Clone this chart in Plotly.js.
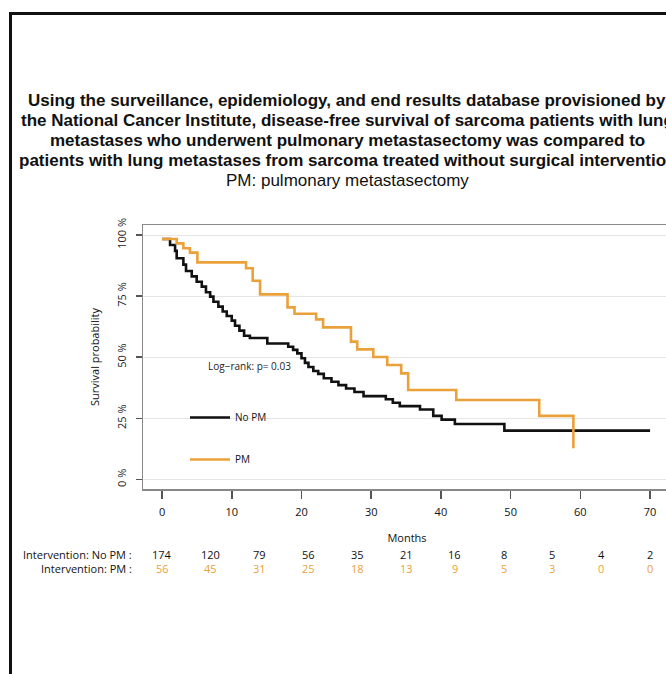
<!DOCTYPE html>
<html>
<head>
<meta charset="utf-8">
<script src="https://cdn.plot.ly/plotly-3.0.1.min.js"></script>
<style>
  html, body { margin: 0; padding: 0; width: 666px; height: 674px; overflow: hidden; background: #fff; }
  #chart { position: absolute; left: 0; top: 0; }
  #frame { position: absolute; left: 9px; top: 12px; width: 900px; height: 900px; border: 3px solid #111; pointer-events: none; }
</style>
</head>
<body>
<div id="chart"></div>
<div id="frame"></div>
<script>
// ---- Data ----
const noPmTime = [0, 1.15, 1.87, 2.1, 3.06, 3.44, 4.26, 4.97, 5.7, 6.3, 6.9, 7.37, 8.08, 8.7, 9.28, 10.0, 10.47, 11.1, 11.77, 12.6, 15.1, 18.1, 18.8, 19.4, 20.0, 20.5, 21.0, 21.7, 22.4, 23.2, 24.3, 25.3, 26.4, 27.6, 28.9, 32.1, 33.1, 34.1, 37.0, 38.9, 40.1, 42.0, 49.1, 70];
const noPmSurv = [0.984, 0.959, 0.935, 0.905, 0.879, 0.853, 0.831, 0.809, 0.789, 0.766, 0.748, 0.727, 0.707, 0.687, 0.669, 0.650, 0.629, 0.609, 0.588, 0.579, 0.556, 0.543, 0.530, 0.516, 0.496, 0.477, 0.460, 0.444, 0.432, 0.414, 0.400, 0.386, 0.372, 0.358, 0.341, 0.328, 0.314, 0.300, 0.286, 0.260, 0.245, 0.227, 0.200, 0.200];

const pmTime = [0, 2.1, 3.06, 4.0, 5.07, 12.05, 13.0, 14.06, 18.0, 19.0, 22.1, 23.1, 27.1, 28.0, 30.3, 32.3, 34.3, 35.3, 42.2, 54.1, 59.0];
const pmSurv = [0.984, 0.966, 0.946, 0.928, 0.888, 0.864, 0.813, 0.757, 0.704, 0.678, 0.655, 0.622, 0.564, 0.532, 0.501, 0.468, 0.434, 0.366, 0.325, 0.260, 0.128];

const xTickVals = [0, 10, 20, 30, 40, 50, 60, 70];
const yTickVals = [0, 0.25, 0.5, 0.75, 1];
const yTickText = ["0 %", "25 %", "50 %", "75 %", "100 %"];

const riskTimes = [0, 7, 14, 21, 28, 35, 42, 49, 56, 63, 70];
const riskNoPm = [174, 120, 79, 56, 35, 21, 16, 8, 5, 4, 2];
const riskPm = [56, 45, 31, 25, 18, 13, 9, 5, 3, 0, 0];
const riskLabels = ["Intervention: No PM :", "Intervention: PM :"];
const seriesNames = ["No PM", "PM"];

const titleLines = [
  "Using the surveillance, epidemiology, and end results database provisioned by",
  "the National Cancer Institute, disease-free survival of sarcoma patients with lung",
  "metastases who underwent pulmonary metastasectomy was compared to",
  "patients with lung metastases from sarcoma treated without surgical intervention"
];
const subtitle = "PM: pulmonary metastasectomy";
const logRankText = "Log\u2212rank: p= 0.03";

// ---- Layout geometry (pixels) ----
const W = 700, H = 674;
const M = { l: 143, r: 29, t: 225, b: 185 };
const plotH = H - M.t - M.b;
const plotW = W - M.l - M.r;
const pxToPaperY = (py) => (H - M.b - py) / plotH;
const pxToPaperX = (px) => (px - M.l) / plotW;

const BLACK = "#111111";
const ORANGE = "#EBA139";
const narrow = "'Open Sans', sans-serif";
const titleFont = "'Liberation Sans', Arial, sans-serif";

const traces = [
  { x: noPmTime, y: noPmSurv, type: "scatter", mode: "lines", name: seriesNames[0],
    line: { shape: "hv", color: BLACK, width: 2.6 }, legendgroup: "a" },
  { x: pmTime, y: pmSurv, type: "scatter", mode: "lines", name: seriesNames[1],
    line: { shape: "hv", color: ORANGE, width: 2.6 }, legendgroup: "b" }
];

const annotations = [];
// title block (one annotation per line for exact line spacing)
titleLines.forEach((s, i) => {
  annotations.push({ x: pxToPaperX(347), y: pxToPaperY(100 + 20 * i), xref: "paper", yref: "paper",
    xanchor: "center", yanchor: "middle", text: "<b>" + s + "</b>", showarrow: false,
    font: { family: titleFont, size: 17, color: "#111" } });
});
annotations.push({ x: pxToPaperX(347), y: pxToPaperY(180), xref: "paper", yref: "paper",
  xanchor: "center", yanchor: "middle", text: subtitle, showarrow: false,
  font: { family: titleFont, size: 17, color: "#111" } });
// log-rank
annotations.push({ x: 12.5, y: 0.464, xref: "x", yref: "y", text: logRankText, showarrow: false,
  font: { family: narrow, size: 10, color: "#222" } });
// risk table
riskTimes.forEach((t, i) => {
  annotations.push({ x: t, y: pxToPaperY(564), xref: "x", yref: "paper", text: String(riskNoPm[i]),
    showarrow: false, font: { family: narrow, size: 11, color: "#111" } });
  annotations.push({ x: t, y: pxToPaperY(578), xref: "x", yref: "paper", text: String(riskPm[i]),
    showarrow: false, font: { family: narrow, size: 11, color: ORANGE } });
});
annotations.push({ x: pxToPaperX(134), y: pxToPaperY(564), xref: "paper", yref: "paper", xanchor: "right",
  text: riskLabels[0], showarrow: false, font: { family: narrow, size: 11, color: "#111" } });
annotations.push({ x: pxToPaperX(134), y: pxToPaperY(578), xref: "paper", yref: "paper", xanchor: "right",
  text: riskLabels[1], showarrow: false, font: { family: narrow, size: 11, color: "#111" } });

const layout = {
  width: W, height: H,
  margin: M,
  paper_bgcolor: "rgba(0,0,0,0)",
  plot_bgcolor: "#ffffff",
  xaxis: {
    range: [-2.73, 73.0], tickvals: xTickVals, ticks: "outside", ticklen: 8, tickwidth: 1.5, tickcolor: "#555",
    showline: true, linecolor: "#888", linewidth: 1.5, mirror: true, showgrid: false, zeroline: false,
    tickfont: { family: narrow, size: 11, color: "#111" }, ticklabelstandoff: 4,
    title: { text: "Months", font: { family: narrow, size: 11, color: "#111" }, standoff: 16 }
  },
  yaxis: {
    range: [-0.039, 1.041], tickvals: yTickVals, ticktext: yTickText, tickangle: -90,
    ticks: "outside", ticklen: 6, tickwidth: 1.5, tickcolor: "#555",
    showline: true, linecolor: "#888", linewidth: 1.5, mirror: true,
    showgrid: true, gridcolor: "#e6e6e6", gridwidth: 1, zeroline: false,
    tickfont: { family: narrow, size: 11, color: "#222" }, ticklabelstandoff: 5,
    title: { text: "Survival probability", font: { family: narrow, size: 11, color: "#111" }, standoff: 12 }
  },
  showlegend: true,
  legend: {
    x: pxToPaperX(185), xanchor: "left", y: pxToPaperY(403), yanchor: "top",
    bgcolor: "rgba(0,0,0,0)", traceorder: "grouped", tracegroupgap: 23, itemwidth: 40,
    font: { family: narrow, size: 10, color: "#111" }
  },
  annotations: annotations
};

Plotly.newPlot("chart", traces, layout, { displayModeBar: false, staticPlot: true });
</script>
</body>
</html>
